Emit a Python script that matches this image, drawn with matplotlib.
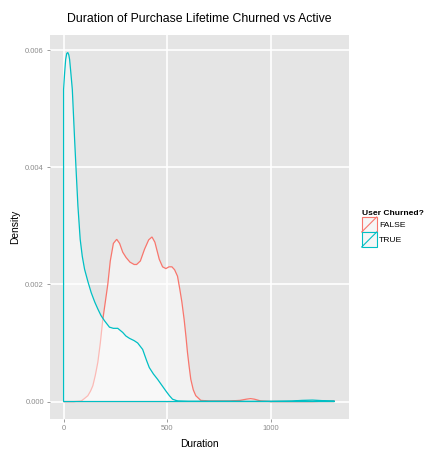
import matplotlib
matplotlib.use("Agg")
import matplotlib.pyplot as plt
from matplotlib.patches import Rectangle
from matplotlib.lines import Line2D
from matplotlib.legend_handler import HandlerBase

plt.rcParams['font.family'] = ['Liberation Sans', 'DejaVu Sans']

# density curves (x = duration, y = density)
true_x = [0, 5, 10, 15, 20, 25, 29, 35, 42, 53, 61, 69, 80, 90, 101, 117, 133, 150,
          165, 180, 197, 221, 240, 261, 285, 300, 317, 340, 357, 381, 400, 413, 433,
          453, 473, 493, 510, 525, 550, 600, 700, 800, 900, 1000, 1100, 1150, 1200,
          1250, 1305]
true_y = [5.33, 5.61, 5.84, 5.94, 5.96, 5.92, 5.84, 5.61, 5.33, 4.48, 3.90, 3.34, 2.77,
          2.48, 2.26, 2.05, 1.86, 1.70, 1.58, 1.47, 1.38, 1.27, 1.25, 1.25, 1.18, 1.12,
          1.08, 1.04, 1.00, 0.89, 0.70, 0.58, 0.47, 0.38, 0.28, 0.18, 0.10, 0.04, 0.01,
          0.005, 0.005, 0.005, 0.003, 0.005, 0.01, 0.02, 0.025, 0.015, 0.01]

false_x = [0, 50, 85, 100, 117, 130, 141, 153, 165, 177, 189, 201, 213, 225, 240, 256,
           270, 285, 301, 320, 340, 352, 370, 390, 410, 426, 440, 461, 477, 493, 508,
           522, 535, 549, 560, 570, 581, 590, 597, 605, 613, 625, 637, 661, 700, 750,
           800, 850, 880, 901, 920, 950, 1000, 1100, 1200, 1305]
false_y = [0.0, 0.0, 0.01, 0.05, 0.10, 0.18, 0.27, 0.45, 0.67, 1.00, 1.40, 1.70, 2.00,
           2.40, 2.70, 2.77, 2.70, 2.55, 2.46, 2.38, 2.34, 2.34, 2.40, 2.60, 2.76, 2.81,
           2.72, 2.43, 2.30, 2.27, 2.30, 2.30, 2.25, 2.14, 1.92, 1.70, 1.40, 1.10, 0.84,
           0.60, 0.38, 0.20, 0.10, 0.02, 0.01, 0.01, 0.01, 0.02, 0.04, 0.05, 0.04, 0.01,
           0.0, 0.0, 0.0, 0.01]

groups = ["FALSE", "TRUE"]
colors = {"FALSE": "#F8766D", "TRUE": "#00BFC4"}
curves = {"FALSE": (false_x, false_y), "TRUE": (true_x, true_y)}

fig = plt.figure(figsize=(4.25, 4.49), dpi=100)
ax = fig.add_axes([50 / 425, 1 - 419 / 449, 299 / 425, 384 / 449])
ax.set_facecolor('#E5E5E5')

for g in groups:
    xs, ys = curves[g]
    ys = [v / 1000 for v in ys]
    px = [xs[0]] + list(xs) + [xs[-1]]
    py = [0] + ys + [0]
    ax.fill(px, py, facecolor=(1, 1, 1, 0.5), edgecolor=colors[g],
            linewidth=0.9, zorder=3)

ax.set_xlim(-65.5, 1375.5)
ax.set_ylim(-0.000298, 0.006258)
ax.set_xticks([0, 500, 1000])
ax.set_xticklabels(["0", "500", "1000"])
ax.set_yticks([0, 0.002, 0.004, 0.006])
ax.set_yticklabels(["0.000", "0.002", "0.004", "0.006"])
ax.grid(True, color='white', linewidth=1.2)
ax.set_axisbelow(True)
for s in ax.spines.values():
    s.set_visible(False)
ax.tick_params(colors='#8c8c8c', labelsize=5.5, length=2.4, width=0.6, pad=2)

ax.set_xlabel("Duration", fontsize=7.4, labelpad=5)
ax.set_ylabel("Density", fontsize=7.4, labelpad=3.5)
fig.text(199.5 / 425, 1 - 19 / 449, "Duration of Purchase Lifetime Churned vs Active",
         ha='center', va='center', fontsize=8.85)


class KeyHandler(HandlerBase):
    def create_artists(self, legend, orig_handle, xdescent, ydescent,
                       width, height, fontsize, trans):
        c = orig_handle.get_color()
        r = Rectangle((-xdescent, -ydescent), width, height, facecolor='#F6F6F6',
                      edgecolor=c, linewidth=0.8, transform=trans)
        d = Line2D([-xdescent, -xdescent + width], [-ydescent, -ydescent + height],
                   color=c, linewidth=0.8, transform=trans)
        return [r, d]


handles = [Line2D([], [], color=colors[g]) for g in groups]
fs = 6.1
key_em = 15 / (fs * 100 / 72)
leg = fig.legend(handles, groups, loc='upper left',
                 bbox_to_anchor=(361.7 / 425, 1 - 210 / 449),
                 frameon=False, borderpad=0, borderaxespad=0, fontsize=fs,
                 handlelength=key_em, handleheight=(key_em - 0.245) / 0.65,
                 labelspacing=0, handletextpad=0.25,
                 title="User Churned?", title_fontproperties={'weight': 'bold', 'size': fs},
                 alignment='left', handler_map={Line2D: KeyHandler()})

fig.savefig("out.png", dpi=100)
